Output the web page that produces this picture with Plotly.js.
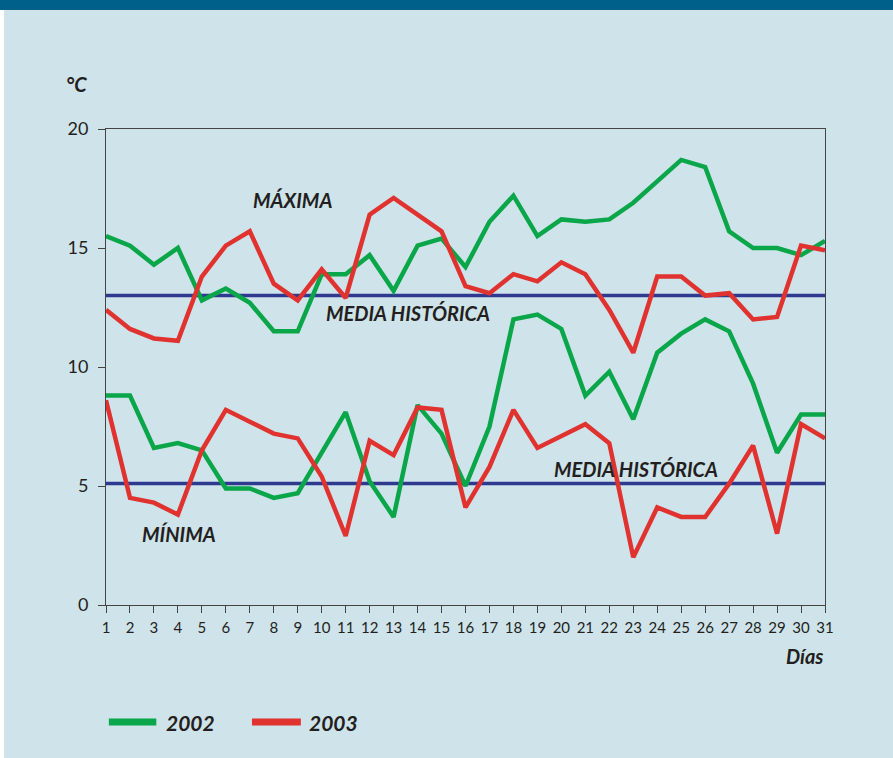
<!DOCTYPE html>
<html>
<head>
<meta charset="utf-8">
<script src="https://cdn.plot.ly/plotly-3.0.1.min.js"></script>
<style>
  body { margin: 0; background: #ffffff; }
  #bar { height: 10px; background: #00608a; }
  #chart { margin-left: 4px; width: 889px; height: 748px; }
</style>
</head>
<body>
<div id="bar"></div>
<div id="chart"></div>
<script>
// días del mes
var dias = [];
for (var d = 1; d <= 31; d++) dias.push(d);

// temperaturas máximas
var max2002 = [15.5, 15.1, 14.3, 15.0, 12.8, 13.3, 12.7, 11.5, 11.5, 13.9,
               13.9, 14.7, 13.2, 15.1, 15.4, 14.2, 16.1, 17.2, 15.5, 16.2,
               16.1, 16.2, 16.9, 17.8, 18.7, 18.4, 15.7, 15.0, 15.0, 14.7, 15.3];
var max2003 = [12.4, 11.6, 11.2, 11.1, 13.8, 15.1, 15.7, 13.5, 12.8, 14.1,
               12.9, 16.4, 17.1, 16.4, 15.7, 13.4, 13.1, 13.9, 13.6, 14.4,
               13.9, 12.4, 10.6, 13.8, 13.8, 13.0, 13.1, 12.0, 12.1, 15.1, 14.9];

// temperaturas mínimas
var min2002 = [8.8, 8.8, 6.6, 6.8, 6.5, 4.9, 4.9, 4.5, 4.7, 6.4,
               8.1, 5.2, 3.7, 8.4, 7.2, 5.0, 7.5, 12.0, 12.2, 11.6,
               8.8, 9.8, 7.8, 10.6, 11.4, 12.0, 11.5, 9.3, 6.4, 8.0, 8.0];
var min2003 = [8.6, 4.5, 4.3, 3.8, 6.5, 8.2, 7.7, 7.2, 7.0, 5.4,
               2.9, 6.9, 6.3, 8.3, 8.2, 4.1, 5.8, 8.2, 6.6, 7.1,
               7.6, 6.8, 2.0, 4.1, 3.7, 3.7, 5.1, 6.7, 3.0, 7.6, 7.0];

// medias históricas
var mediaMax = 13.0;
var mediaMin = 5.1;

var verde = '#0aa64a';
var rojo = '#e0332f';
var azul = '#2e3a8f';
var texto = '#231f20';

function serie(y, color, w) {
  return { x: dias, y: y, mode: 'lines', line: { color: color, width: w }, hoverinfo: 'skip' };
}

var data = [
  serie(dias.map(function () { return mediaMax; }), azul, 3.5),
  serie(dias.map(function () { return mediaMin; }), azul, 3.5),
  serie(max2002, verde, 4.5),
  serie(max2003, rojo, 4.5),
  serie(min2002, verde, 4.5),
  serie(min2003, rojo, 4.5)
];

var etiq = { family: 'Lato, sans-serif', size: 20, color: texto, weight: 700, style: 'italic' };

function nota(x, y, t, xref, yref, xa, size) {
  var f = Object.assign({}, etiq);
  if (size) f.size = size;
  return { x: x, y: y, xref: xref || 'x', yref: yref || 'y', text: t, showarrow: false,
           xanchor: xa || 'center', yanchor: 'middle', font: f };
}

var layout = {
  width: 889, height: 748,
  margin: { l: 102, r: 68, t: 119, b: 153 },
  paper_bgcolor: '#cfe3eb',
  plot_bgcolor: '#cfe3eb',
  showlegend: false,
  font: { family: 'Lato, sans-serif', color: texto },
  xaxis: {
    range: [1, 31], tickvals: dias, ticks: 'outside', ticklen: 7, tickcolor: '#444',
    showgrid: false, zeroline: false, showline: true, linecolor: '#444', linewidth: 1,
    mirror: true, tickfont: { size: 15, color: texto }, ticklabelstandoff: 2
  },
  yaxis: {
    range: [0, 20], tickvals: [0, 5, 10, 15, 20], ticks: 'outside', ticklen: 7, tickcolor: '#444',
    showgrid: false, zeroline: false, showline: true, linecolor: '#444', linewidth: 1,
    mirror: true, tickfont: { size: 18, color: texto }, ticklabelstandoff: 6
  },
  annotations: [
    nota(-0.059, 1.095, '°C', 'paper', 'paper', 'left', 20),
    nota(8.8, 17.0, 'MÁXIMA'),
    nota(13.6, 12.27, 'MEDIA HISTÓRICA'),
    nota(23.1, 5.71, 'MEDIA HISTÓRICA'),
    nota(4.05, 2.98, 'MÍNIMA'),
    nota(1.0, -0.108, 'Días', 'paper', 'paper', 'right', 20),
    nota(0.080, -0.2458, '2002', 'paper', 'paper', 'left', 21),
    nota(0.279, -0.2458, '2003', 'paper', 'paper', 'left', 21)
  ],
  shapes: [
    { type: 'line', xref: 'paper', yref: 'paper', x0: 0.004, x1: 0.070, y0: -0.2458, y1: -0.2458,
      line: { color: verde, width: 7 } },
    { type: 'line', xref: 'paper', yref: 'paper', x0: 0.203, x1: 0.271, y0: -0.2458, y1: -0.2458,
      line: { color: rojo, width: 7 } }
  ]
};

Plotly.newPlot('chart', data, layout, { displayModeBar: false, staticPlot: true });
</script>
</body>
</html>
